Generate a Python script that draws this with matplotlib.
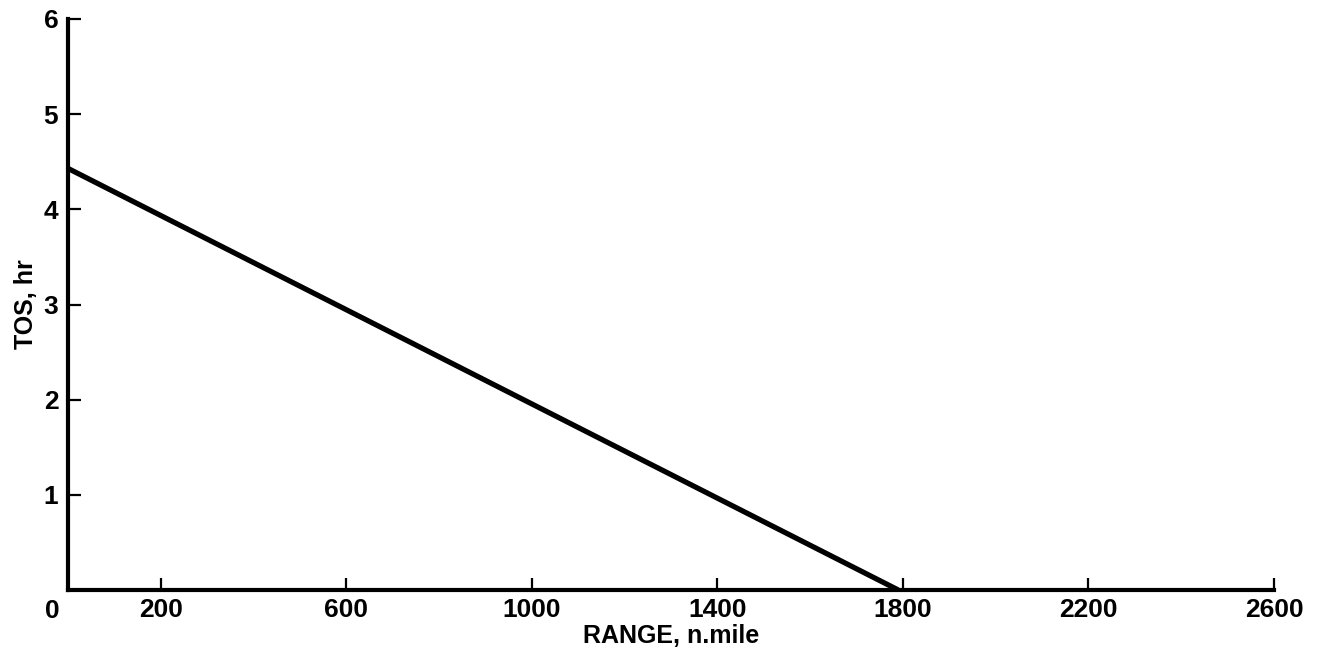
import matplotlib
matplotlib.use("Agg")
import matplotlib.pyplot as plt

range_nmi = [0, 1790]
tos_hr = [4.43, 0.0]
xticks = [200, 600, 1000, 1400, 1800, 2200, 2600]
yticks = [1, 2, 3, 4, 5, 6]

plt.rcParams['font.family'] = ['Liberation Sans', 'DejaVu Sans']
plt.rcParams['font.weight'] = 'bold'

fig = plt.figure(figsize=(13.2, 6.61), dpi=100)
ax = fig.add_axes([68/1320, 1-590/661, (1274-68)/1320, (590-19)/661])
ax.plot(range_nmi, tos_hr, color='black', lw=3.8, solid_capstyle='butt')
ax.set_xlim(0, 2600)
ax.set_ylim(0, 6)
ax.set_xticks(xticks)
ax.set_yticks(yticks)
ax.set_xticklabels([str(v) for v in xticks], fontsize=19, fontweight='bold')
ax.set_yticklabels([str(v) for v in yticks], fontsize=19, fontweight='bold')
ax.tick_params(axis='both', direction='in', length=9, width=1.6)
ax.tick_params(axis='x', pad=6)
ax.tick_params(axis='y', pad=7)
for s in ['top', 'right']:
    ax.spines[s].set_visible(False)
for s in ['left', 'bottom']:
    ax.spines[s].set_linewidth(3)
ax.text(-0.0066, -0.016, '0', transform=ax.transAxes, ha='right', va='top', fontsize=19, fontweight='bold')
ax.set_xlabel('RANGE, n.mile', fontsize=18, fontweight='bold', labelpad=1)
ax.set_ylabel('TOS, hr', fontsize=18, fontweight='bold', labelpad=4)
fig.savefig('out.png', dpi=100, facecolor='white')
